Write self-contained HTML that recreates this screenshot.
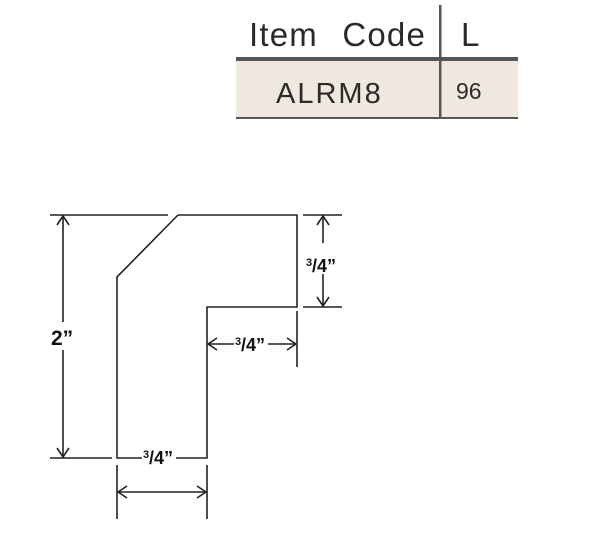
<!DOCTYPE html>
<html><head><style>
body{margin:0;background:#fff;width:606px;height:528px;overflow:hidden;font-family:"Liberation Sans",sans-serif}
</style></head><body>
<svg width="606" height="528" viewBox="0 0 606 528" xmlns="http://www.w3.org/2000/svg">
<rect x="236" y="61" width="282" height="57" fill="#efe8df"/>
<rect x="236" y="57" width="282" height="4" fill="#555"/>
<rect x="236" y="117" width="282" height="2" fill="#555"/>
<rect x="439" y="5" width="2.5" height="112" fill="#555"/>
<text x="249" y="46" font-size="33" fill="#2a2a2a" word-spacing="14" letter-spacing="1.2">Item Code</text>
<text x="461" y="46" font-size="33" fill="#2a2a2a">L</text>
<text x="276" y="103" font-size="29" fill="#2a2a2a" letter-spacing="2">ALRM8</text>
<text x="456" y="99" font-size="23" fill="#2a2a2a">96</text>

<g stroke="#222" stroke-width="1.6" fill="none">
<path d="M178 215 L297 215 L297 307 L207 307 L207 458 L176 458 M142 458 L117 458 L117 277 L178 215"/>
<path d="M50 215 L168 215 M50 458 L112 458"/>
<path d="M63 216 L63 322 M63 350 L63 457"/>
<path d="M57 225 L63 216 L69 225 M57 448 L63 457 L69 448"/>
<path d="M303 215 L342 215 M303 307 L342 307"/>
<path d="M323 216 L323 243 M323 274 L323 306"/>
<path d="M317 225 L323 216 L329 225 M317 297 L323 306 L329 297"/>
<path d="M297 311 L297 367"/>
<path d="M208 344 L234 344 M268 344 L296 344"/>
<path d="M217 338 L208 344 L217 350 M287 338 L296 344 L287 350"/>
<path d="M117 465 L117 519 M207 465 L207 519"/>
<path d="M118 492 L206 492"/>
<path d="M127 486 L118 492 L127 498 M197 486 L206 492 L197 498"/>
</g>
<g font-family="Liberation Sans, sans-serif" font-weight="bold" fill="#111">
<text x="51" y="345" font-size="21">2”</text>
<text x="306" y="266" font-size="11">3</text><text x="312" y="272" font-size="18">/4”</text>
<text x="235" y="345" font-size="11">3</text><text x="241" y="351" font-size="18">/4”</text>
<text x="143" y="458" font-size="11">3</text><text x="149" y="464" font-size="18">/4”</text>
</g>
</svg>
</body></html>
